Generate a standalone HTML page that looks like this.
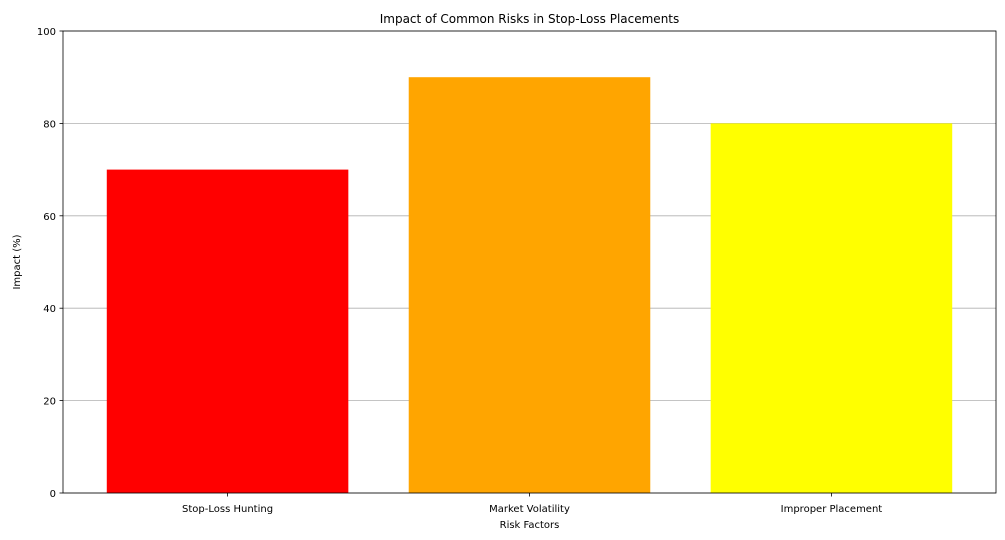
<!DOCTYPE html>
<html><head><meta charset="utf-8"><style>body{margin:0;background:#fff;font-family:"Liberation Sans","DejaVu Sans",sans-serif}</style></head>
<body>
<svg id="chart" width="1005" height="535" xmlns="http://www.w3.org/2000/svg" font-family="DejaVu Sans, Liberation Sans, sans-serif">
<g id="grid"></g><g id="bars"></g><g id="axes"></g>
</svg>
<script>
const categories = ["Stop-Loss Hunting", "Market Volatility", "Improper Placement"];
const values = [70, 90, 80];
const colors = ["#ff0000", "#ffa500", "#ffff00"];
const yTicks = [0, 20, 40, 60, 80, 100];
const L=63,R=996,T=31,B=493;
const xMin=-0.545,xMax=2.545;
const xs=v=>L+(v-xMin)/(xMax-xMin)*(R-L);
const ys=v=>B-v/100*(B-T);
const NS="http://www.w3.org/2000/svg";
function mk(tag,attrs,parent,text){const e=document.createElementNS(NS,tag);for(const k in attrs)e.setAttribute(k,attrs[k]);if(text!==undefined)e.textContent=text;document.getElementById(parent).appendChild(e);return e;}
yTicks.forEach(t=>{
  const g=mk('line',{x1:L,x2:R,y1:ys(t),y2:ys(t),stroke:'#b0b0b0','stroke-width':0.8},'grid');
  
  
  const tk=mk('line',{x1:L-3.5,x2:L,y1:ys(t),y2:ys(t),stroke:'#000','stroke-width':0.8},'axes');
  
  
  const lb=mk('text',{x:L-7,y:ys(t)+4,'text-anchor':'end','font-size':10},'axes',t);
  
  
});
categories.forEach((c,i)=>{
  const b=mk('rect',{x:xs(i-0.4),y:ys(values[i]),width:xs(i+0.4)-xs(i-0.4),height:B-ys(values[i]),fill:colors[i]},'bars');
  
  
  const tk=mk('line',{x1:xs(i),x2:xs(i),y1:B,y2:B+3.5,stroke:'#000','stroke-width':0.8},'axes');
  
  
  const lb=mk('text',{x:xs(i),y:B+19,'text-anchor':'middle','font-size':10},'axes',c);
  
  
});
const fr=mk('rect',{x:L,y:T,width:R-L,height:B-T,fill:'none',stroke:'#000','stroke-width':0.8},'axes');


const ti=mk('text',{x:(L+R)/2,y:T-8,'text-anchor':'middle','font-size':12},'axes','Impact of Common Risks in Stop-Loss Placements');


const xt=mk('text',{x:(L+R)/2,y:B+35,'text-anchor':'middle','font-size':10},'axes','Risk Factors');


const yt=mk('text',{x:0,y:0,'text-anchor':'middle','font-size':10,transform:`translate(20,${(T+B)/2}) rotate(-90)`},'axes','Impact (%)');


</script>
</body></html>
